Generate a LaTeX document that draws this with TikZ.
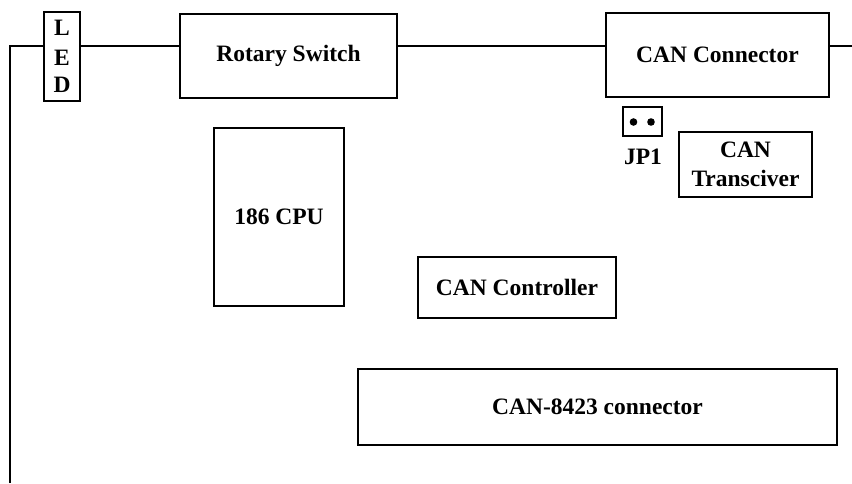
\documentclass[tikz,border=0pt]{standalone}
\usepackage{fontspec}
\setmainfont{Liberation Serif}
\begin{document}
\begin{tikzpicture}[x=1pt,y=-1pt,
  box/.style={draw=black,line width=2pt,inner sep=0pt,align=center,
    font=\fontsize{23.5}{29}\selectfont\bfseries},
  wire/.style={draw=black,line width=2pt},
  lbl/.style={inner sep=0pt,font=\fontsize{23.5}{29}\selectfont\bfseries}]
\useasboundingbox (0,0) rectangle (852,483);
\node[box,minimum width=36pt,minimum height=89pt] (led) at (62,56.5)
  {L\\[1pt]E\\[-2pt]D};
\node[box,minimum width=217pt,minimum height=84pt] (rot) at (288.5,55.5) {Rotary Switch};
\node[box,minimum width=223pt,minimum height=84pt] (canc) at (717.5,55) {CAN Connector};
\node[box,minimum width=39pt,minimum height=29pt] (jp) at (642.5,121.5) {};
\fill (jp.center) ++(-9,0.5) circle (3.8pt) coordinate (d1);
\fill (jp.center) ++(8.5,0.5) circle (3.8pt) coordinate (d2);
\node[lbl] (jpl) at (643,156.5) {JP1};
\node[box,minimum width=133pt,minimum height=65pt] (tr) at (745.5,164.5) {CAN\\Transciver};
\node[box,minimum width=130pt,minimum height=178pt] (cpu) at (279,217) {186 CPU};
\node[box,minimum width=198pt,minimum height=61pt] (ctl) at (517,287.5) {CAN Controller};
\node[box,minimum width=479pt,minimum height=76pt] (c84) at (597.5,407) {CAN-8423 connector};
\coordinate (lb) at (10,483);
\coordinate (lt) at (10,46);
\coordinate (re) at (852,46);
\draw[wire] (lb) -- (lt) -- (lt -| led.west);
\draw[wire] (lt -| led.east) -- (lt -| rot.west);
\draw[wire] (lt -| rot.east) -- (lt -| canc.west);
\draw[wire] (lt -| canc.east) -- (re);
\end{tikzpicture}
\end{document}
